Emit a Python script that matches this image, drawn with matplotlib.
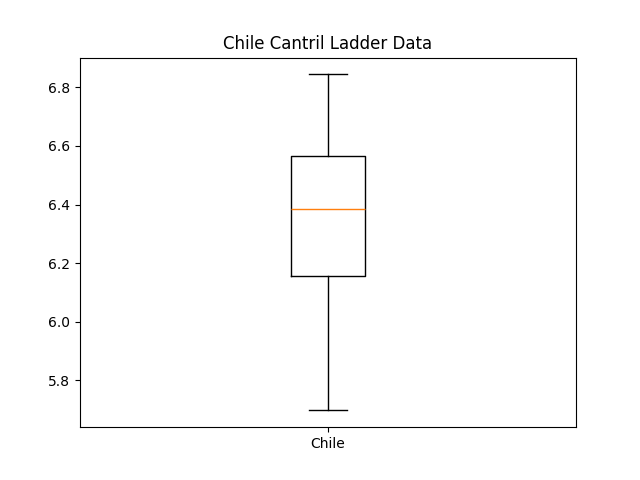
import matplotlib
matplotlib.use("Agg")
import matplotlib.pyplot as plt

# box summary
labels = ["Chile"]
whislo = [5.698]
q1 = [6.158]
med = [6.386]
q3 = [6.565]
whishi = [6.844]

stats = []
for i in range(len(labels)):
    stats.append({"label": labels[i], "whislo": whislo[i], "q1": q1[i],
                  "med": med[i], "q3": q3[i], "whishi": whishi[i], "fliers": []})

fig, ax = plt.subplots(figsize=(6.4, 4.8), dpi=100)
ax.bxp(stats)
ax.set_title("Chile Cantril Ladder Data")
fig.savefig("out.png")
